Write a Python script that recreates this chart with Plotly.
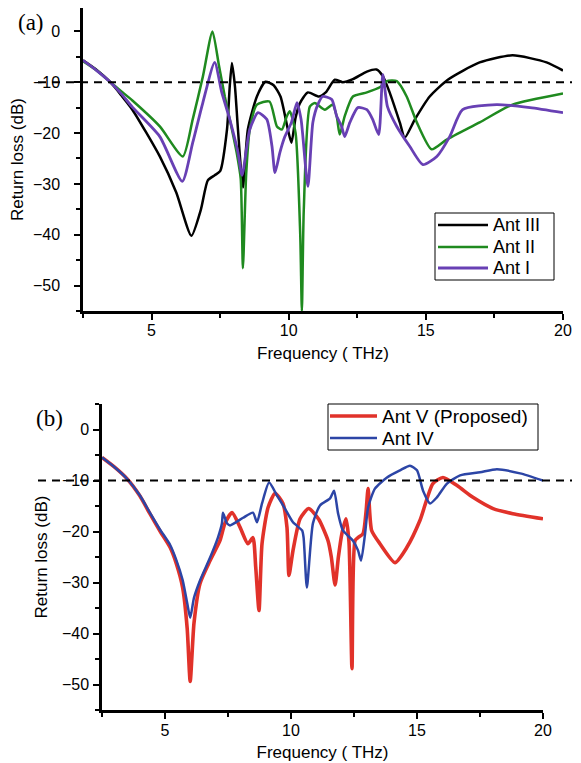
import plotly.graph_objects as go
from plotly.subplots import make_subplots

# ---- panel (a) ----
freq_iii = [2.5, 3.0, 3.5, 3.9, 4.3, 5.3, 5.9, 6.45, 6.8, 7.05, 7.3, 7.5, 7.75, 7.85, 7.93, 8.04, 8.15,
            8.33, 8.51, 8.84, 9.15, 9.45, 9.7, 9.97, 10.1, 10.25, 10.4, 10.7, 11.1, 11.35, 11.68, 11.97,
            12.34, 12.85, 13.2, 13.43, 13.68, 14.05, 14.23, 14.6, 15.14, 15.8, 16.96, 18.16, 19.4, 20.0]
rl_iii = [-5.7, -7.6, -10.0, -12.6, -15.4, -24.6, -31.7, -40.2, -35.0, -29.3, -28.3, -27.5, -19.3, -10.8,
          -6.2, -10.8, -19.3, -30.7, -19.3, -12.8, -9.9, -10.6, -12.8, -19.3, -21.9, -17.0, -14.2, -12.0,
          -12.8, -12.0, -9.5, -10.0, -9.4, -7.9, -7.5, -8.8, -12.0, -17.9, -20.9, -17.3, -12.8, -9.5, -6.1,
          -4.7, -6.1, -7.7]

freq_ii = [2.5, 3.0, 3.5, 3.9, 4.3, 5.3, 6.14, 6.5, 6.87, 7.22, 7.45, 7.67, 7.93, 8.1, 8.25, 8.33, 8.45,
           8.58, 8.84, 9.3, 9.57, 9.75, 9.93, 10.04, 10.25, 10.42, 10.48, 10.55, 10.77, 10.95, 11.32, 11.6,
           11.75, 11.86, 12.04, 12.34, 12.85, 13.32, 13.57, 13.94, 14.3, 14.67, 15.21, 15.76, 16.96, 18.16,
           20.0]
rl_ii = [-5.9, -7.7, -10.0, -11.8, -13.6, -18.7, -24.6, -17.3, -8.9, 0.0, -6.5, -12.8, -19.3, -23.8,
         -29.0, -46.6, -28.0, -19.3, -14.4, -13.8, -18.7, -19.3, -16.7, -15.7, -20.0, -40.0, -55.0, -35.0,
         -14.8, -14.1, -15.4, -14.4, -16.7, -20.3, -16.7, -12.8, -12.0, -11.0, -9.8, -9.8, -12.8, -17.9,
         -23.2, -21.3, -17.9, -14.4, -12.2]

freq_i = [2.5, 3.0, 3.5, 3.9, 4.3, 5.3, 6.12, 6.5, 6.87, 7.3, 7.56, 7.85, 8.15, 8.3, 8.58, 8.88, 9.2,
          9.39, 9.5, 9.68, 9.86, 10.1, 10.3, 10.45, 10.7, 10.88, 11.06, 11.24, 11.57, 11.75, 11.93, 12.04,
          12.23, 12.52, 12.85, 13.06, 13.28, 13.43, 13.6, 13.94, 14.41, 14.89, 15.4, 15.87, 16.34, 17.58,
          18.8, 20.0]
rl_i = [-5.7, -7.7, -10.0, -12.3, -14.9, -20.7, -29.5, -21.9, -14.0, -6.1, -12.0, -17.3, -23.8, -28.3,
        -19.3, -16.0, -17.3, -22.6, -27.8, -23.8, -20.7, -17.9, -14.0, -17.3, -30.5, -17.9, -14.4, -12.8,
        -13.4, -16.7, -18.7, -20.7, -17.9, -15.0, -15.4, -17.3, -20.3, -8.5, -14.8, -18.7, -22.6, -26.2,
        -24.6, -20.7, -15.4, -14.4, -15.0, -16.0]

# ---- panel (b) ----
freq_v = [2.5, 3.0, 3.5, 4.0, 4.4, 4.8, 5.2, 5.45, 5.7, 5.88, 6.0, 6.15, 6.39, 6.79, 7.18, 7.38, 7.66,
          7.98, 8.29, 8.49, 8.6, 8.73, 8.85, 9.09, 9.37, 9.68, 9.84, 9.92, 10.08, 10.36, 10.7, 11.1, 11.47,
          11.6, 11.75, 11.88, 12.02, 12.18, 12.3, 12.42, 12.54, 12.66, 12.86, 12.98, 13.06, 13.2, 13.53,
          14.13, 14.6, 15.12, 15.63, 16.03, 16.59, 17.22, 18.02, 18.8, 20.0]
rl_v = [-5.5, -7.4, -9.7, -13.0, -16.5, -19.9, -23.1, -26.3, -31.0, -39.0, -49.4, -38.0, -30.2, -25.7,
        -21.8, -18.4, -16.3, -19.2, -22.4, -21.2, -27.0, -35.5, -22.4, -15.3, -12.5, -14.5, -19.2, -28.6,
        -23.7, -17.5, -15.5, -17.6, -21.8, -25.0, -30.5, -25.0, -20.4, -17.5, -22.0, -46.9, -21.8, -21.2,
        -20.4, -16.0, -11.6, -19.8, -22.4, -26.1, -23.1, -17.8, -10.6, -9.4, -11.0, -13.3, -15.5, -16.5,
        -17.5]

freq_iv = [2.5, 3.0, 3.5, 4.0, 4.4, 4.8, 5.2, 5.45, 5.7, 5.88, 6.0, 6.15, 6.39, 6.79, 7.1, 7.26, 7.3,
           7.46, 7.58, 8.1, 8.49, 8.65, 8.85, 9.13, 9.44, 9.76, 10.08, 10.44, 10.5, 10.63, 10.87, 11.15,
           11.55, 11.71, 11.87, 12.06, 12.46, 12.66, 12.78, 12.94, 13.06, 13.33, 13.81, 14.33, 14.72, 15.0,
           15.24, 15.52, 15.79, 16.19, 16.71, 17.5, 18.17, 19.09, 20.0]
rl_iv = [-5.5, -7.4, -9.7, -12.9, -16.3, -19.6, -22.6, -25.6, -29.5, -34.0, -36.9, -33.0, -29.6, -25.1,
         -21.2, -18.4, -16.3, -18.4, -18.8, -17.3, -16.3, -18.2, -14.5, -10.4, -12.9, -15.5, -18.2, -19.8,
         -21.2, -31.0, -18.4, -14.9, -13.5, -12.0, -16.5, -19.8, -21.8, -23.7, -25.7, -20.4, -15.3, -11.6,
         -9.4, -8.0, -7.1, -8.0, -12.0, -14.5, -13.3, -10.6, -9.0, -8.4, -7.8, -8.6, -10.0]

# the page body has an 8px margin, so size the figure to fit and shift everything by it
OFF = 8
W, H = 581 - OFF, 763 - OFF
FONT = "Liberation Sans, Arial, sans-serif"
SERIF = "Liberation Serif, Times New Roman, serif"


def fx(px):
    return (px - OFF) / W


def fy(py):
    return min(1.0, 1 - (py - OFF) / H)


series_a = [("Ant III", freq_iii, rl_iii, "black", 2.5),
            ("Ant II", freq_ii, rl_ii, "#1f8a1f", 2.5),
            ("Ant I", freq_i, rl_i, "#6840b4", 2.8)]
series_b = [("Ant V (Proposed)", freq_v, rl_v, "#e1322a", 3.6),
            ("Ant IV", freq_iv, rl_iv, "#2c45a6", 2.5)]

fig = make_subplots(rows=2, cols=1)

for row, series in ((1, series_a), (2, series_b)):
    for name, xs, ys, color, width in series:
        fig.add_trace(go.Scatter(x=xs, y=ys, mode="lines", name=name, showlegend=False,
                                 line=dict(color=color, width=width, shape="spline", smoothing=0.6)),
                      row=row, col=1)

axis_common = dict(
    showline=True, linecolor="black", linewidth=2.5, mirror=False,
    ticks="outside", ticklen=6, tickwidth=2, tickcolor="black",
    showgrid=False, zeroline=False, automargin=False,
    tickfont=dict(family=FONT, size=16, color="black"),
)
title_font = dict(family=FONT, size=17, color="black")
xminor = dict(ticks="outside", dtick=2.5, ticklen=4, tickwidth=2, tickcolor="black")
yminor = dict(ticks="outside", dtick=5, ticklen=4, tickwidth=2, tickcolor="black")

fig.update_layout(
    xaxis=dict(domain=[fx(83), fx(563)], range=[2.5, 20], tick0=0, dtick=5, minor=xminor,
               ticklabelstandoff=-3,
               title=dict(text="Frequency ( THz)", standoff=10, font=title_font), **axis_common),
    # top of panel (a) sits at the very top of the figure, so the range stops a little lower
    yaxis=dict(domain=[fy(311), fy(8)], range=[-55, 4.6], tick0=0, dtick=10, minor=yminor,
               title=dict(text="Return loss (dB)", standoff=9, font=title_font),
               ticklabelstandoff=11, **axis_common),
    xaxis2=dict(domain=[fx(102), fx(543)], range=[2.5, 20], tick0=0, dtick=5, minor=xminor,
                ticklabelstandoff=-2,
                title=dict(text="Frequency ( THz)", standoff=9, font=title_font), **axis_common),
    yaxis2=dict(domain=[fy(710), fy(404)], range=[-55, 5], tick0=0, dtick=10, minor=yminor,
                title=dict(text="Return loss (dB)", standoff=10, font=title_font),
                ticklabelstandoff=1, **axis_common),
)

# -10 dB reference lines, running past the axes as in the original
fig.add_shape(type="line", xref="x domain", yref="y", x0=(38 - 83) / 480, x1=(572 - 83) / 480,
              y0=-10, y1=-10, line=dict(color="black", width=2, dash="8px,6px"))
fig.add_shape(type="line", xref="x2 domain", yref="y2", x0=(38 - 102) / 441, x1=(572 - 102) / 441,
              y0=-10, y1=-10, line=dict(color="black", width=2, dash="8px,6px"))

fig.add_annotation(text="(a)", x=fx(31), y=fy(22), xref="paper", yref="paper", showarrow=False,
                   xanchor="center", yanchor="middle", font=dict(family=SERIF, size=23, color="black"))
fig.add_annotation(text="(b)", x=fx(49), y=fy(418), xref="paper", yref="paper", showarrow=False,
                   xanchor="center", yanchor="middle", font=dict(family=SERIF, size=23, color="black"))


# compact boxed legends (Origin style), drawn in paper space
def draw_legend(series, box, line_x, rows_y, text_x, size):
    x0, y0, x1, y1 = box
    fig.add_shape(type="rect", xref="paper", yref="paper", x0=fx(x0), x1=fx(x1), y0=fy(y1), y1=fy(y0),
                  line=dict(color="black", width=1), fillcolor="white", layer="above")
    for (name, _, _, color, width), ry in zip(series, rows_y):
        fig.add_shape(type="line", xref="paper", yref="paper", x0=fx(line_x[0]), x1=fx(line_x[1]),
                      y0=fy(ry), y1=fy(ry), line=dict(color=color, width=width))
        fig.add_annotation(text=name, x=fx(text_x), y=fy(ry), xref="paper", yref="paper",
                           showarrow=False, xanchor="left", yanchor="middle",
                           font=dict(family=FONT, size=size, color="black"))


draw_legend(series_a, (435, 213, 554, 280), (438, 488), (225, 247, 268), 491, 18)
draw_legend(series_b, (328, 404, 538, 450), (330, 377), (416, 438), 380, 19)

fig.update_layout(
    width=W, height=H,
    margin=dict(l=0, r=0, t=0, b=0),
    paper_bgcolor="white", plot_bgcolor="white",
    showlegend=False,
)

fig.write_html("out.html")
